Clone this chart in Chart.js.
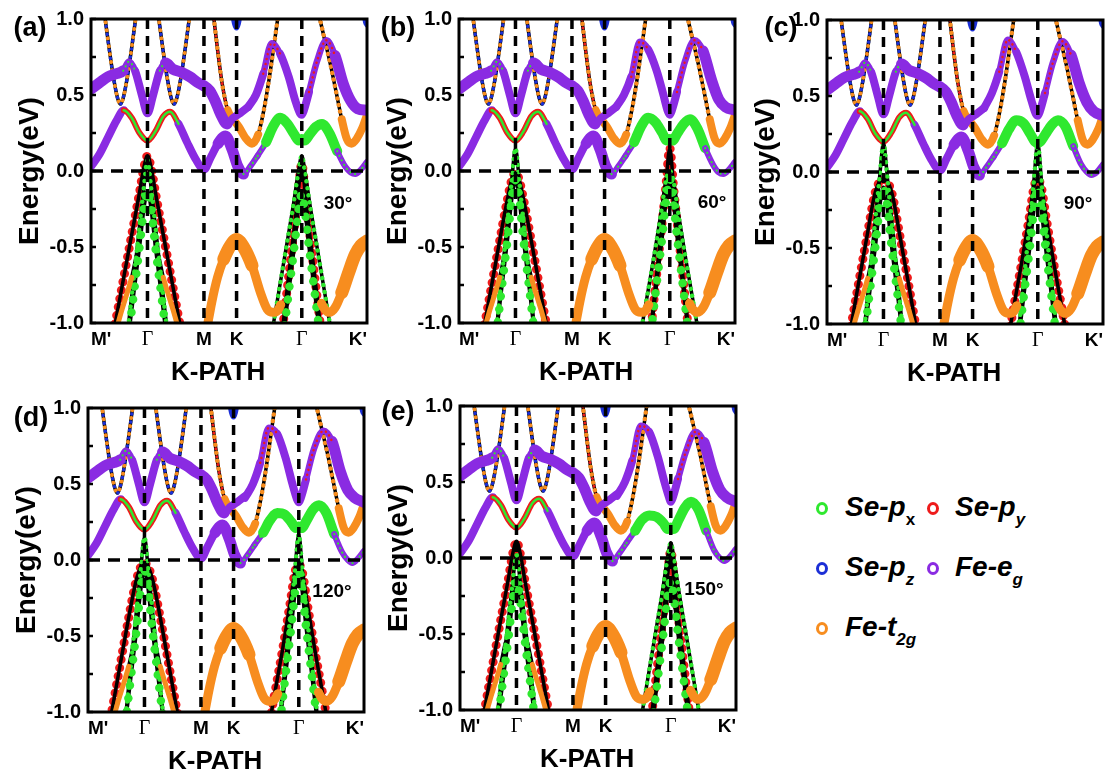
<!DOCTYPE html>
<html><head><meta charset="utf-8">
<script src="https://cdn.jsdelivr.net/npm/chart.js@4.4.1/dist/chart.umd.min.js"></script>
<style>
html,body{margin:0;padding:0;background:#fff;}
#page{position:relative;width:1116px;height:781px;overflow:hidden;background:#fff;font-family:"Liberation Sans",Arial,sans-serif;}
#page canvas{position:absolute;}
.tag{position:absolute;font-weight:bold;color:#000;white-space:nowrap;transform:translate(-50%,-50%);line-height:1;}
.ring{position:absolute;width:6px;height:7px;border:3px solid;border-radius:50%;}
.lt{position:absolute;font-size:28px;line-height:28px;font-weight:bold;font-style:italic;color:#000;white-space:nowrap;}
.lt sub{font-size:17px;vertical-align:-9px;line-height:0;}
</style></head>
<body><div id="page">
<div class="ring" style="left:816px;top:502px;border-color:#2fe82f"></div>
<div class="lt" style="left:845px;top:493px">Se-p<sub style="font-style:normal">x</sub></div>
<div class="ring" style="left:927px;top:502px;border-color:#ee1b1b"></div>
<div class="lt" style="left:955px;top:493px">Se-p<sub>y</sub></div>
<div class="ring" style="left:816px;top:562px;border-color:#1c2fd6"></div>
<div class="lt" style="left:845px;top:553px">Se-p<sub>z</sub></div>
<div class="ring" style="left:927px;top:562px;border-color:#8a2be2"></div>
<div class="lt" style="left:955px;top:553px">Fe-e<sub>g</sub></div>
<div class="ring" style="left:816px;top:622px;border-color:#f78d1f"></div>
<div class="lt" style="left:845px;top:613px">Fe-t<sub>2g</sub></div>
</div>
<script>
// ---------- axis / label data ----------
const KPOS=[0,1,2,2.5774,3.7321,4.8868];
const KLABELS=["M'","Γ","M","K","Γ","K'"];
const KMAX=4.8868;
const YTICKS=[-1,-0.75,-0.5,-0.25,0,0.25,0.5,0.75,1];
const YLABELED=[-1,-0.5,0,0.5,1];
const LETTERS=["(a)","(b)","(c)","(d)","(e)"];
const ANGLES=["30°","60°","90°","120°","150°"];

// ---------- band data (k in path units, E in eV) ----------
const CB1L_U=[0,0.15,0.3,0.45,0.58,0.72,0.86,1.0,1.14,1.28,1.40,1.55,1.70,1.85,2.0,2.12,2.25,2.38,2.50,2.60,2.70,2.82,2.95];
const CB1L_E=[0.03,0.11,0.22,0.33,0.40,0.35,0.25,0.20,0.26,0.36,0.39,0.31,0.19,0.08,0.01,0.09,0.18,0.23,0.14,0.03,-0.02,0.03,0.10];
const CB1R_U=[2.95,3.10,3.22,3.35,3.48,3.60,3.68,3.732,3.78,3.87,3.98,4.09,4.22,4.36,4.50,4.60,4.68,4.78,4.8868];
const CB1R_E=[
 [0.10,0.19,0.29,0.35,0.31,0.24,0.20,0.21,0.20,0.24,0.29,0.31,0.25,0.13,0.03,-0.01,-0.02,0.01,0.06],
 [0.10,0.19,0.29,0.35,0.32,0.25,0.20,0.21,0.20,0.25,0.31,0.34,0.28,0.15,0.04,-0.01,-0.02,0.01,0.06],
 [0.10,0.19,0.28,0.34,0.32,0.25,0.20,0.19,0.20,0.25,0.31,0.34,0.30,0.17,0.05,0.00,-0.02,0.00,0.05],
 [0.10,0.18,0.26,0.31,0.30,0.25,0.21,0.22,0.21,0.26,0.33,0.36,0.31,0.17,0.05,0.00,-0.02,0.01,0.06],
 [0.10,0.18,0.25,0.28,0.27,0.23,0.19,0.20,0.19,0.25,0.33,0.37,0.32,0.18,0.05,0.00,-0.02,0.01,0.06]];
const CB2L_U=[0,0.15,0.3,0.45,0.57,0.67,0.78,0.90,1.0,1.10,1.22,1.32,1.45,1.60,1.75,1.90,2.0,2.10,2.20,2.30,2.41,2.52,2.64,2.78];
const CB2L_E=[0.54,0.58,0.62,0.64,0.66,0.72,0.66,0.50,0.38,0.50,0.66,0.71,0.67,0.65,0.62,0.58,0.56,0.53,0.46,0.37,0.31,0.35,0.38,0.42];
const CB2R_U=[2.78,2.92,3.05,3.20,3.35,3.50,3.62,3.70,3.732,3.77,3.86,4.0,4.17,4.32,4.47,4.60,4.72,4.8868];
const CB2R_E=[
 [0.42,0.50,0.64,0.84,0.77,0.62,0.46,0.38,0.37,0.40,0.52,0.72,0.86,0.76,0.57,0.46,0.41,0.40],
 [0.42,0.50,0.62,0.85,0.80,0.66,0.50,0.39,0.37,0.40,0.52,0.72,0.86,0.79,0.60,0.47,0.42,0.40],
 [0.42,0.52,0.66,0.87,0.79,0.63,0.47,0.38,0.37,0.40,0.52,0.72,0.86,0.77,0.58,0.46,0.40,0.37],
 [0.41,0.50,0.64,0.87,0.83,0.67,0.50,0.40,0.38,0.41,0.53,0.73,0.85,0.78,0.58,0.46,0.41,0.38],
 [0.41,0.50,0.64,0.87,0.83,0.67,0.50,0.40,0.37,0.40,0.52,0.70,0.83,0.76,0.57,0.45,0.40,0.37]];
const V1_U=[0.24,0.32,0.40,0.47,0.52,0.57,0.64,0.72,0.80];
const V2_U=[1.19,1.27,1.35,1.42,1.47,1.52,1.59,1.67,1.75];
const V_E=[1.03,0.81,0.61,0.48,0.44,0.48,0.61,0.81,1.03];
const ORA1_U=[2.17,2.24,2.32,2.42,2.52,2.62,2.73,2.85,2.96,3.06,3.16,3.26,3.32];
const ORA1_E=[1.02,0.80,0.58,0.40,0.34,0.29,0.22,0.18,0.24,0.40,0.62,0.88,1.04];
const ORA2_U=[4.04,4.14,4.24,4.34,4.44,4.53,4.61,4.70,4.80,4.8868];
const ORA2_E=[1.02,0.86,0.70,0.52,0.34,0.21,0.18,0.21,0.28,0.37];
const BLU1_U=[2.50,2.54,2.577,2.61,2.65];
const BLU1_E=[1.05,0.97,0.94,0.97,1.05];
const BLU2_U=[4.83,4.86,4.8868];
const BLU2_E=[1.05,0.98,0.96];
const VO1_U=[2.06,2.14,2.24,2.35,2.47,2.577,2.70,2.85,3.0,3.12,3.22,3.30,3.36];
const VO1_E=[-1.02,-0.86,-0.70,-0.58,-0.49,-0.45,-0.50,-0.62,-0.80,-0.91,-0.93,-0.92,-0.88];
const VO2_U=[4.08,4.14,4.22,4.32,4.44,4.56,4.68,4.78,4.8868];
const VO2_E=[-0.87,-0.91,-0.93,-0.90,-0.80,-0.67,-0.55,-0.49,-0.46];
const D1L_U=[0.45,0.55,0.65,0.72,0.80];
const D1L_E=[-1.04,-0.91,-0.79,-0.70,-0.56];
const D1R_U=[1.20,1.28,1.35,1.45,1.55];
const D1R_E=[-0.56,-0.70,-0.79,-0.91,-1.04];
const L1O_U=[0.40,0.55,0.70,0.85,0.94,1.0,1.06,1.15,1.30,1.45,1.60];
const L1O_E=[
 [-1.06,-0.76,-0.46,-0.16,0.03,0.10,0.03,-0.16,-0.46,-0.76,-1.06],
 [-1.12,-0.81,-0.50,-0.20,-0.05,-0.01,-0.05,-0.20,-0.50,-0.81,-1.12],
 [-1.07,-0.75,-0.44,-0.14,-0.06,-0.05,-0.06,-0.14,-0.44,-0.75,-1.07],
 [-1.04,-0.73,-0.42,-0.14,-0.04,-0.02,-0.04,-0.14,-0.42,-0.73,-1.04],
 [-1.07,-0.76,-0.45,-0.15,0.04,0.11,0.04,-0.15,-0.45,-0.76,-1.07]];
const L1I_U=[0.63,0.74,0.84,0.93,1.0,1.07,1.16,1.26,1.37];
const L1I_E=[
 [-1.12,-0.76,-0.43,-0.13,0.07,-0.13,-0.43,-0.76,-1.12],
 [-1.16,-0.76,-0.40,-0.08,0.15,-0.08,-0.40,-0.76,-1.16],
 [-1.15,-0.74,-0.37,-0.04,0.19,-0.04,-0.37,-0.74,-1.15],
 [-1.16,-0.76,-0.40,-0.08,0.15,-0.08,-0.40,-0.76,-1.16],
 [-1.12,-0.78,-0.46,-0.17,0.02,-0.17,-0.46,-0.78,-1.12]];
const L1F_U=[0.66,0.76,0.86,0.94,1.0,1.06,1.14,1.24,1.34];
const L1F_E=[
 [-1.10,-0.80,-0.50,-0.24,-0.13,-0.24,-0.50,-0.80,-1.10],
 [-1.08,-0.76,-0.45,-0.17,-0.06,-0.17,-0.45,-0.76,-1.08],
 [-1.09,-0.78,-0.48,-0.21,-0.10,-0.21,-0.48,-0.78,-1.09],
 [-1.08,-0.77,-0.46,-0.18,-0.07,-0.18,-0.46,-0.77,-1.08],
 [-1.10,-0.81,-0.52,-0.26,-0.15,-0.26,-0.52,-0.81,-1.10]];
const L2O_U=[3.17,3.30,3.44,3.58,3.67,3.732,3.79,3.88,4.02,4.16,4.29];
const L2O_E=[
 [-1.14,-0.85,-0.54,-0.23,-0.01,0.10,-0.01,-0.23,-0.54,-0.85,-1.14],
 [-1.17,-0.89,-0.59,-0.27,-0.05,0.00,-0.05,-0.27,-0.59,-0.89,-1.17],
 [-1.18,-0.90,-0.61,-0.30,-0.09,-0.05,-0.09,-0.30,-0.61,-0.90,-1.18],
 [-1.17,-0.89,-0.60,-0.28,-0.07,-0.03,-0.07,-0.28,-0.60,-0.89,-1.17],
 [-1.14,-0.85,-0.54,-0.23,-0.01,0.10,-0.01,-0.23,-0.54,-0.85,-1.14]];
const L2I_U=[3.36,3.46,3.56,3.66,3.732,3.80,3.90,4.00,4.10];
const L2I_E=[
 [-1.14,-0.82,-0.50,-0.18,0.05,-0.18,-0.50,-0.82,-1.14],
 [-1.18,-0.82,-0.47,-0.11,0.15,-0.11,-0.47,-0.82,-1.18],
 [-1.17,-0.80,-0.44,-0.07,0.19,-0.07,-0.44,-0.80,-1.17],
 [-1.17,-0.81,-0.45,-0.09,0.17,-0.09,-0.45,-0.81,-1.17],
 [-1.14,-0.82,-0.50,-0.18,0.05,-0.18,-0.50,-0.82,-1.14]];
const L2F_U=[3.40,3.50,3.60,3.68,3.732,3.78,3.86,3.96,4.06];
const L2F_E=[
 [-1.10,-0.80,-0.50,-0.24,-0.15,-0.24,-0.50,-0.80,-1.10],
 [-1.06,-0.74,-0.43,-0.15,-0.05,-0.15,-0.43,-0.74,-1.06],
 [-1.08,-0.77,-0.47,-0.20,-0.10,-0.20,-0.47,-0.77,-1.08],
 [-1.07,-0.75,-0.44,-0.17,-0.07,-0.17,-0.44,-0.75,-1.07],
 [-1.10,-0.80,-0.50,-0.24,-0.15,-0.24,-0.50,-0.80,-1.10]];

// ---------- styles (kept apart from the data) ----------
const GREEN='#2fe82f',RED='#ee1b1b',BLUE='#1c2fd6',PURPLE='#8a2be2',ORANGE='#f78d1f';
const LV={under:7,base:6,dot:5,dot2:4,fat:3,center:2};
const BASE={lv:'base',c:'#000',w:3.5};
const STY={
 black:[BASE],
 blackRed:[{lv:'under',c:RED,w:9,d:[0.01,8.5]},BASE],
 blackGreen:[BASE,{lv:'dot',c:GREEN,w:4.5,d:[0.01,7]}],
 blackGreenFat:[BASE,{lv:'dot',c:GREEN,w:8.5,d:[0.01,13]}],
 blackOrange:[BASE,{lv:'dot',c:ORANGE,w:4.5,d:[0.01,6.5]}],
 blackOrangeBlue:[BASE,{lv:'dot',c:ORANGE,w:4,d:[0.01,8]},{lv:'dot2',c:BLUE,w:3.5,d:[0.01,8],o:4}],
 blackOrangeRed:[BASE,{lv:'dot',c:ORANGE,w:4.5,d:[0.01,8]},{lv:'dot2',c:RED,w:3,d:[0.01,8],o:4}],
 orangeLine:[BASE,{lv:'fat',c:ORANGE,w:5}],
 orangeMed:[BASE,{lv:'fat',c:ORANGE,w:8}],
 orangeFat:[BASE,{lv:'fat',c:ORANGE,w:13}],
 orangeFat9:[BASE,{lv:'fat',c:ORANGE,w:9}],
 purpleFat:[BASE,{lv:'fat',c:PURPLE,w:11}],
 purpleMed:[BASE,{lv:'fat',c:PURPLE,w:8}],
 purpleThin:[BASE,{lv:'fat',c:PURPLE,w:6},{lv:'center',c:GREEN,w:2.2,d:[0.01,5]}],
 purpleGreen:[BASE,{lv:'fat',c:PURPLE,w:6.5},{lv:'center',c:GREEN,w:2.2,d:[0.01,5]}],
 purpleRed:[BASE,{lv:'fat',c:PURPLE,w:6.5},{lv:'center',c:RED,w:2.5,d:[0.01,5]}],
 redGreen:[BASE,{lv:'fat',c:RED,w:6},{lv:'center',c:GREEN,w:2.5}],
 greenFat:[BASE,{lv:'fat',c:GREEN,w:10}],
 blue:[{lv:'fat',c:BLUE,w:5}]
};
const R_CB1L=[[0,0.52,'purpleMed'],[0.52,1.48,'redGreen'],[1.48,2.2,'purpleMed'],[2.2,2.68,'purpleFat'],[2.68,9,'purpleThin']];
const R_CB1R=[[0,3.13,'purpleThin'],[3.13,4.3,'greenFat'],[4.3,9,'purpleThin']];
const R_CB2L=[[0,0.58,'purpleFat'],[0.58,0.76,'purpleGreen'],[0.76,1.23,'purpleMed'],[1.23,1.38,'purpleGreen'],[1.38,2.41,'purpleFat'],[2.41,9,'purpleMed']];
const R_CB2R=[[0,3.05,'purpleMed'],[3.05,3.35,'purpleRed'],[3.35,3.9,'purpleMed'],[3.9,4.3,'purpleRed'],[4.3,9,'purpleFat']];
const R_V=[[0,9,'blackOrangeBlue']];
const R_ORA1=[[0,2.45,'blackOrangeRed'],[2.45,3.0,'orangeMed'],[3.0,9,'blackOrange']];
const R_ORA2=[[0,4.45,'blackOrange'],[4.45,9,'orangeMed']];
const R_BLUE=[[0,9,'blue']];
const R_VO1=[[0,2.3,'orangeFat9'],[2.3,2.9,'orangeFat'],[2.9,9,'orangeFat9']];
const R_VO2=[[0,4.5,'orangeFat9'],[4.5,9,'orangeFat']];
const R_D1L=[[0,0.72,'orangeLine'],[0.72,9,'black']];
const R_D1R=[[0,1.28,'black'],[1.28,9,'orangeLine']];
const L1O_STY=['blackRed','blackRed','blackRed','blackRed','blackRed'];
const L1I_STY=['blackGreen','blackGreen','blackGreen','blackGreen','blackGreen'];
const L2O_STY=['blackGreen','blackGreen','blackRed','blackRed','blackGreen'];
const L2I_STY=['blackRed','blackRed','blackGreen','blackGreen','blackRed'];
const PANEL_POS=[[0,0],[368,0],[736,1],[-3,389],[369,387]];
const LETTER_POS=[[30,27],[398,27],[781,27],[31,417],[398,411]];
const ANGLE_POS=[[338,202],[712,201],[1078,202],[332,590],[704,588]];

const FONT='"Liberation Sans", Arial, sans-serif';
const TRANSP='rgba(0,0,0,0)';

function bandDatasets(us,es,ranges){
  const data=us.map((u,i)=>({x:u,y:es[i]}));
  const levels=new Set();
  ranges.forEach(r=>STY[r[2]].forEach(l=>levels.add(l.lv)));
  return [...levels].map(lv=>{
    const pick=ctx=>{
      const u=(ctx.p0.parsed.x+ctx.p1.parsed.x)/2;
      const r=ranges.find(r=>u>=r[0]&&u<r[1]);
      if(!r) return null;
      return STY[r[2]].find(l=>l.lv===lv)||null;
    };
    return {data,order:LV[lv],pointRadius:0,borderColor:TRANSP,borderWidth:1,
      cubicInterpolationMode:'monotone',borderCapStyle:'round',borderJoinStyle:'round',clip:0,fill:false,
      segment:{
        borderColor:c=>{const l=pick(c);return l?l.c:TRANSP;},
        borderWidth:c=>{const l=pick(c);return l?l.w:1;},
        borderDash:c=>{const l=pick(c);return l&&l.d?l.d:[];},
        borderDashOffset:c=>{const l=pick(c);return l&&l.o?l.o:0;}
      }};
  });
}

const framePlugin={id:'frame',afterDatasetsDraw(chart){
  const {ctx,chartArea:a}=chart; const ys=chart.scales.y;
  ctx.save(); ctx.strokeStyle='#000'; ctx.lineWidth=3;
  ctx.strokeRect(a.left,a.top,a.right-a.left,a.bottom-a.top);
  ctx.lineWidth=2.5;
  ys.ticks.forEach(t=>{const y=ys.getPixelForValue(t.value);ctx.beginPath();ctx.moveTo(a.left,y);ctx.lineTo(a.left+5,y);ctx.stroke();});
  ctx.restore();
}};

function buildPanel(p){
  const page=document.getElementById('page');
  const cv=document.createElement('canvas');
  cv.width=375; cv.height=390;
  cv.style.left=PANEL_POS[p][0]+'px'; cv.style.top=PANEL_POS[p][1]+'px';
  page.insertBefore(cv,page.firstChild);
  const bands=[
    [CB1L_U,CB1L_E,R_CB1L],[CB1R_U,CB1R_E[p],R_CB1R],
    [CB2L_U,CB2L_E,R_CB2L],[CB2R_U,CB2R_E[p],R_CB2R],
    [V1_U,V_E,R_V],[V2_U,V_E,R_V],
    [ORA1_U,ORA1_E,R_ORA1],[ORA2_U,ORA2_E,R_ORA2],
    [BLU1_U,BLU1_E,R_BLUE],[BLU2_U,BLU2_E,R_BLUE],
    [VO1_U,VO1_E,R_VO1],[VO2_U,VO2_E,R_VO2],
    [D1L_U,D1L_E,R_D1L],[D1R_U,D1R_E,R_D1R],
    [L1O_U,L1O_E[p],[[0,9,L1O_STY[p]]]],[L1I_U,L1I_E[p],[[0,9,L1I_STY[p]]]],[L1F_U,L1F_E[p],[[0,9,'blackGreenFat']]],
    [L2O_U,L2O_E[p],[[0,9,L2O_STY[p]]]],[L2I_U,L2I_E[p],[[0,9,L2I_STY[p]]]],[L2F_U,L2F_E[p],[[0,9,'blackGreenFat']]]
  ];
  const datasets=bands.flatMap(b=>bandDatasets(b[0],b[1],b[2]));
  KPOS.slice(1,5).forEach(v=>datasets.push({data:[{x:v,y:1},{x:v,y:-1}],order:0,pointRadius:0,borderColor:'#000',borderWidth:3.5,borderDash:[10,7],tension:0,clip:0,fill:false}));
  datasets.push({data:[{x:0,y:0},{x:KMAX,y:0}],order:0,pointRadius:0,borderColor:'#000',borderWidth:3.5,borderDash:[12,8],tension:0,clip:0,fill:false});

  new Chart(cv,{type:'line',data:{datasets},plugins:[framePlugin],
    options:{responsive:false,animation:false,events:[],
      layout:{padding:{top:17,right:8,left:0,bottom:0}},
      plugins:{legend:{display:false},tooltip:{enabled:false}},
      scales:{
        x:{type:'linear',min:0,max:KMAX,
          afterBuildTicks:s=>{s.ticks=KPOS.map(v=>({value:v}));},
          afterFit:s=>{s.height=67;},
          grid:{display:false,drawTicks:false},border:{display:false},
          ticks:{autoSkip:false,maxRotation:0,minRotation:0,align:'inner',padding:5,color:'#000',
            font:c=>(c.index===1||c.index===4)?{family:'"Liberation Serif", "Times New Roman", serif',size:20,weight:'normal'}:{family:FONT,size:19,weight:'bold'},
            callback:(v,i)=>KLABELS[i]},
          title:{display:true,text:'K-PATH\u00a0\u00a0\u00a0',color:'#000',font:{family:FONT,size:26,weight:'bold'},padding:{top:0,bottom:2}}},
        y:{type:'linear',min:-1,max:1,
          afterBuildTicks:s=>{s.ticks=YTICKS.map(v=>({value:v}));},
          afterFit:s=>{s.width=91;},
          grid:{display:false,drawTicks:false},border:{display:false},
          ticks:{autoSkip:false,padding:7,color:'#000',font:{family:FONT,size:20,weight:'bold'},
            callback:v=>YLABELED.includes(v)?v.toFixed(1):''},
          title:{display:true,text:'Energy(eV)',color:'#000',font:{family:FONT,size:28,weight:'bold'},padding:{top:13,bottom:0}}}
      }}});

  const L=document.createElement('div'); L.className='tag'; L.textContent=LETTERS[p];
  L.style.cssText+=`left:${LETTER_POS[p][0]}px;top:${LETTER_POS[p][1]}px;font-size:27px;`;
  page.appendChild(L);
  const A=document.createElement('div'); A.className='tag'; A.textContent=ANGLES[p];
  A.style.cssText+=`left:${ANGLE_POS[p][0]}px;top:${ANGLE_POS[p][1]}px;font-size:19px;`;
  page.appendChild(A);
}
for(let p=0;p<5;p++) buildPanel(p);
</script>
</body></html>
